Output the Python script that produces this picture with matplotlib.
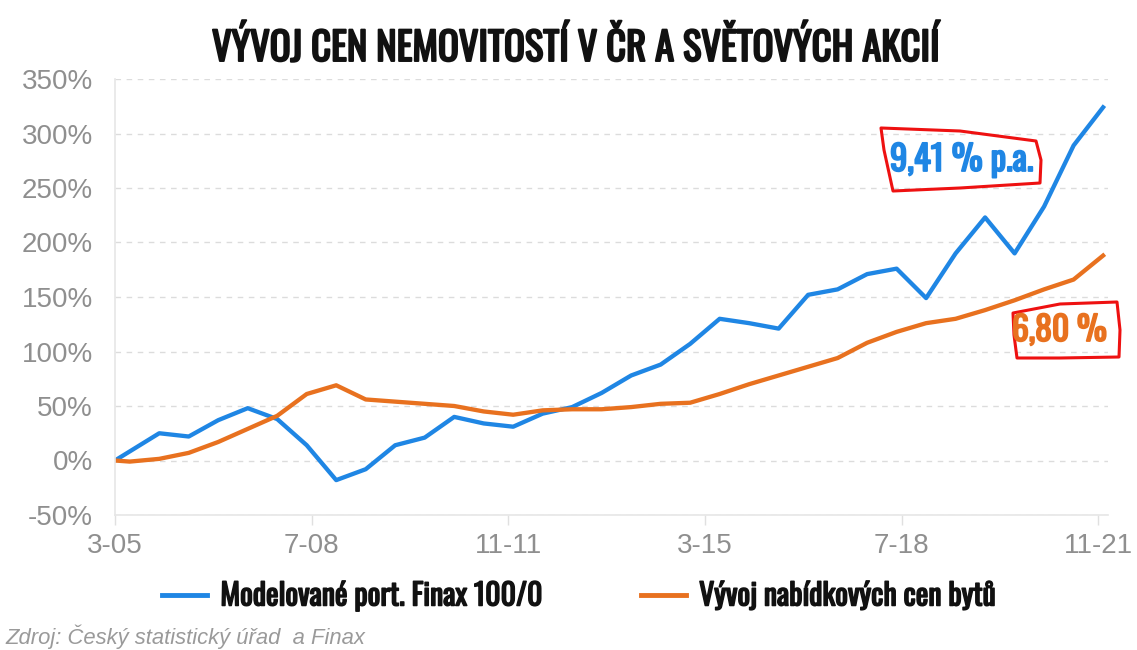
import matplotlib
matplotlib.use("Agg")
import matplotlib.pyplot as plt
import matplotlib.patheffects as pe
from matplotlib import font_manager as fm
from matplotlib.patches import Polygon

# x osa: mesice od 3/2005
tick_labels = ["3-05", "7-08", "11-11", "3-15", "7-18", "11-21"]
tick_months = [0, 40, 80, 120, 160, 200]

finax_months = [0, 9, 15, 21, 27, 33, 39, 45, 51, 57, 63, 69, 75, 81, 87, 93, 99,
                105, 111, 117, 123, 129, 135, 141, 147, 153, 159, 165, 171, 177,
                183, 189, 195, 201]
finax = [0, 25, 22, 37, 48, 38, 14, -18, -8, 14, 21, 40, 34, 31, 43, 49, 62,
         78, 88, 107, 130, 126, 121, 152, 157, 171, 176, 149, 190, 223,
         190, 233, 289, 324]

byty_months = [0, 3, 9, 15, 21, 27, 33, 39, 45, 51, 57, 63, 69, 75, 81, 87, 93, 99,
               105, 111, 117, 123, 129, 135, 141, 147, 153, 159, 165, 171, 177,
               183, 189, 195, 201]
byty = [0, -1, 1.5, 7, 17, 29, 41, 61, 69, 56, 54, 52, 50, 45, 42, 46, 47, 47,
        49, 52, 53, 61, 70, 78, 86, 94, 108, 118, 126, 130, 138,
        147, 157, 166, 188]

y_ticks = [-50, 0, 50, 100, 150, 200, 250, 300, 350]

BLUE = "#1f86e4"
ORANGE = "#e8711f"
GRAY = "#8f8f8f"


def narrow_font():
    fonts = fm.fontManager.ttflist
    for name in ["Oswald", "Roboto Condensed", "Liberation Sans Narrow",
                 "Open Sans Condensed", "Arial Narrow"]:
        if any(f.name == name for f in fonts):
            return dict(family=[name, "DejaVu Sans"], weight="bold")
    if any(f.name == "DejaVu Sans" and f.stretch == "condensed" for f in fonts):
        return dict(family="DejaVu Sans", weight="bold", stretch="condensed")
    return dict(family="DejaVu Sans", weight="bold")


NARROW = narrow_font()
plt.rcParams["font.family"] = ["Liberation Sans", "DejaVu Sans"]


def heavy(color, w=1.2):
    # Oswald je jen v reznu regular, tucnost dorovname obrysem
    return [pe.withStroke(linewidth=w, foreground=color)]


W, H = 1137, 650
fig = plt.figure(figsize=(W / 100, H / 100), dpi=100)
ax = fig.add_axes([115 / W, (H - 515) / H, (1108 - 115) / W, (515 - 79) / H])

ax.plot(finax_months, finax, color=BLUE, lw=3.1, solid_joinstyle="round")
ax.plot(byty_months, byty, color=ORANGE, lw=3.1, solid_joinstyle="round")

ax.set_xlim(0, 202)
ax.set_ylim(-50, 350)
ax.set_xticks(tick_months)
ax.set_xticklabels(tick_labels)
ax.set_yticks(y_ticks)
ax.set_yticklabels([f"{v}%" for v in y_ticks])

for s in ["top", "right"]:
    ax.spines[s].set_visible(False)
for s in ["left", "bottom"]:
    ax.spines[s].set_color("#e6e6e6")
    ax.spines[s].set_linewidth(1.2)

ax.grid(axis="y", color="#dcdcdc", linestyle=(0, (4, 4)), lw=1)
ax.tick_params(axis="y", length=0, pad=16, labelsize=20, labelcolor=GRAY)
ax.tick_params(axis="x", length=7, width=1, color="#e0e0e0", pad=6,
               labelsize=20, labelcolor=GRAY)
ax.set_axisbelow(True)


def fit_text(t, width, size):
    # zmensi pismo, kdyz je zvoleny font sirsi nez v predloze
    fig.canvas.draw()
    w = t.get_window_extent().width
    if w > width:
        t.set_fontsize(size * width / w)


title = fig.text(576 / W, 1 - 47 / H, "VÝVOJ CEN NEMOVITOSTÍ V ČR A SVĚTOVÝCH AKCIÍ",
                 ha="center", va="center", fontsize=28, color="#111111",
                 path_effects=heavy("#111111", 1.4), **NARROW)
fit_text(title, 728, 28)

a1 = fig.text(890 / W, 1 - 160 / H, "9,41 % p.a.", ha="left", va="center",
              fontsize=25, color=BLUE, path_effects=heavy(BLUE, 1.3), **NARROW)
fit_text(a1, 150, 25)
a2 = fig.text(1012 / W, 1 - 330 / H, "6,80 %", ha="left", va="center",
              fontsize=25, color=ORANGE, path_effects=heavy(ORANGE, 1.3), **NARROW)
fit_text(a2, 95, 25)

# rucne kreslene ramecky
box1 = [(881, 128), (960, 131), (1036, 141), (1041, 160), (1040, 183),
        (960, 188), (893, 191), (884, 150)]
box2 = [(1013, 313), (1060, 304), (1117, 302), (1120, 330), (1119, 357),
        (1060, 358), (1017, 358), (1014, 335)]
for box in [box1, box2]:
    fig.patches.append(Polygon([(x / W, 1 - y / H) for x, y in box], closed=True,
                               fill=False, ec="#ee1111", lw=2.2, joinstyle="round",
                               transform=fig.transFigure))

leg = fig.legend(["Modelované port. Finax 100/0", "Vývoj nabídkových cen bytů"],
                 loc="center", bbox_to_anchor=(579 / W, 1 - 596 / H), ncol=2,
                 frameon=False, handlelength=1.5, handletextpad=0.45,
                 columnspacing=3.3, prop=fm.FontProperties(size=21.5, **NARROW))
for line in leg.get_lines():
    line.set_linewidth(3.5)
for t in leg.get_texts():
    t.set_color("#111111")
    t.set_path_effects(heavy("#111111", 1.1))

fig.text(5 / W, 1 - 637 / H, "Zdroj: Český statistický úřad  a Finax",
         ha="left", va="center", fontsize=15.8, style="italic", color="#9a9a9a")

fig.savefig("out.png", dpi=100)
